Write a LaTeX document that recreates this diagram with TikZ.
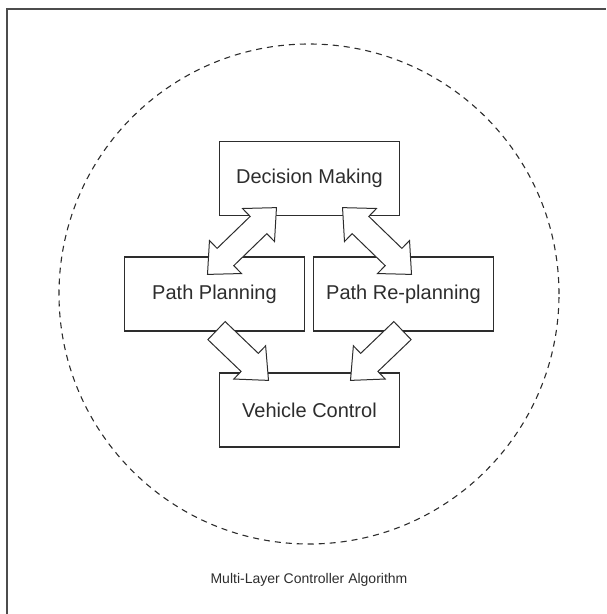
\documentclass[tikz,border=0pt]{standalone}
\usepackage{fontspec}
\setmainfont{Liberation Sans}
\usetikzlibrary{calc}
\definecolor{ink}{RGB}{45,45,45}
\tikzset{
  box/.style={draw=ink, line width=1.2pt, minimum width=180pt, minimum height=74pt, inner sep=0pt, text=ink, font=\fontsize{20}{24}\selectfont},
  blockarrow/.style={draw=ink, fill=white, line width=1pt, line join=miter},
}
\newcommand\dblarrow[2]{\draw[blockarrow] let \p1=($(#2)-(#1)$), \n1={atan2(\y1,\x1)}, \n2={veclen(\x1,\y1)} in
  [shift={(#1)},rotate=\n1] (0pt,0pt) -- (25pt,23pt) -- (25pt,12pt) -- ({\n2-25pt},12pt) -- ({\n2-25pt},23pt) -- ({\n2+0pt},0pt)
  -- ({\n2-25pt},-23pt) -- ({\n2-25pt},-12pt) -- (25pt,-12pt) -- (25pt,-23pt) -- cycle;}
\newcommand\sglarrow[2]{\draw[blockarrow] let \p1=($(#2)-(#1)$), \n1={atan2(\y1,\x1)}, \n2={veclen(\x1,\y1)} in
  [shift={(#1)},rotate=\n1] (0pt,12.5pt) -- ({\n2-26pt},12.5pt) -- ({\n2-26pt},23pt) -- ({\n2+0pt},0pt)
  -- ({\n2-26pt},-23pt) -- ({\n2-26pt},-12.5pt) -- (0pt,-12.5pt) -- cycle;}
\begin{document}
\begin{tikzpicture}[x=1pt,y=-1pt]
\useasboundingbox (0,0) rectangle (606,614);
\draw[line width=2pt, draw=ink!85] (7,614) |- (606,9);
\draw[ink, line width=1.1pt, dash pattern=on 6pt off 5pt] (309,294) circle [radius=250pt];

\node[box] (dm) at (309.5,178.5) {Decision Making};
\node[box] (pp) at (214.5,294) {Path Planning};
\node[box] (pr) at (403.5,294) {Path Re-planning};
\node[box] (vc) at (309.5,410) {Vehicle Control};
\node[text=ink, font=\fontsize{14}{17}\selectfont] (cap) at (309,580) {Multi-Layer Controller Algorithm};

\coordinate (a1) at ($(dm.south)+(-33,-8.5)$);
\coordinate (b1) at ($(pp.north)+(-7,18)$);
\coordinate (a2) at ($(dm.south)+(33,-8.5)$);
\coordinate (b2) at ($(pr.north)+(8,18)$);
\coordinate (c1) at ($(pp.south)+(2,-1)$);
\coordinate (d1) at ($(vc.north)+(-41,8)$);
\coordinate (c2) at ($(pr.south)+(-1,-1)$);
\coordinate (d2) at ($(vc.north)+(41,8)$);

\dblarrow{b1}{a1}
\dblarrow{b2}{a2}
\sglarrow{c1}{d1}
\sglarrow{c2}{d2}
\end{tikzpicture}
\end{document}
